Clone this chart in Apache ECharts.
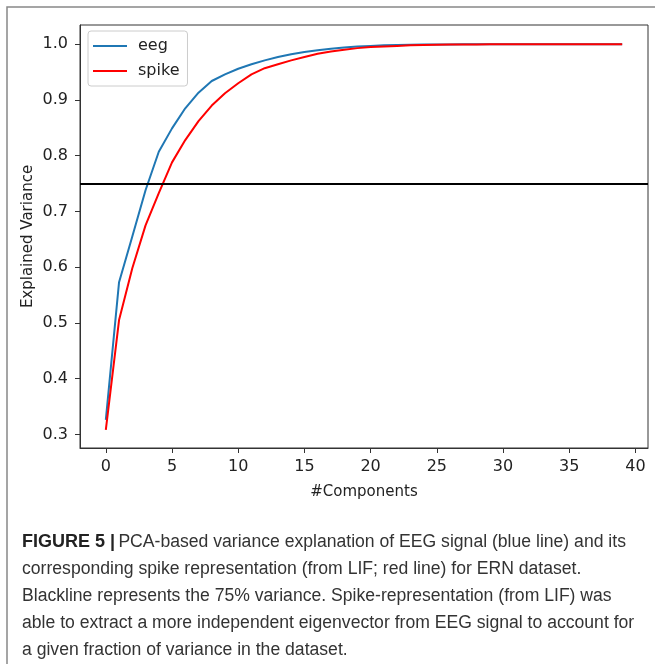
<!DOCTYPE html>
<html>
<head>
<meta charset="utf-8">
<script src="https://cdn.jsdelivr.net/npm/echarts@6/dist/echarts.min.js"></script>
<style>
  html, body { margin: 0; padding: 0; background: #fff; }
  #chart { width: 655px; height: 664px; }
</style>
</head>
<body>
<div id="chart"></div>
<script>
// explained variance per number of components
var components = [];
for (var i = 0; i < 40; i++) components.push(i);
var eeg = [0.326, 0.573, 0.655, 0.738, 0.807, 0.849, 0.885, 0.913, 0.934, 0.946,
  0.956, 0.964, 0.971, 0.977, 0.982, 0.986, 0.989, 0.992, 0.994, 0.996,
  0.997, 0.998, 0.9985, 0.999, 0.9993, 0.9995, 0.9997, 0.9998, 0.9999, 0.9999,
  1.0, 1.0, 1.0, 1.0, 1.0, 1.0, 1.0, 1.0, 1.0, 1.0];
var spike = [0.308, 0.505, 0.598, 0.675, 0.733, 0.788, 0.828, 0.862, 0.890, 0.912,
  0.930, 0.946, 0.957, 0.964, 0.971, 0.977, 0.983, 0.987, 0.990, 0.993,
  0.995, 0.996, 0.997, 0.998, 0.9985, 0.999, 0.9993, 0.9995, 0.9997, 0.9998,
  0.9999, 0.9999, 1.0, 1.0, 1.0, 1.0, 1.0, 1.0, 1.0, 1.0];
var xTicks = [0, 5, 10, 15, 20, 25, 30, 35, 40];
var yTicks = [0.3, 0.4, 0.5, 0.6, 0.7, 0.8, 0.9, 1.0];
var threshold = 0.75;

var captionLines = [
  'PCA-based variance explanation of EEG signal (blue line) and its',
  'corresponding spike representation (from LIF; red line) for ERN dataset.',
  'Blackline represents the 75% variance. Spike-representation (from LIF) was',
  'able to extract a more independent eigenvector from EEG signal to account for',
  'a given fraction of variance in the dataset.'
];

function pairs(ys) {
  return ys.map(function (v, k) { return [components[k], v]; });
}

var tickFont = { fontFamily: 'DejaVu Sans', fontSize: 16, color: '#222' };

var captionGraphics = [];
captionGraphics.push({
  type: 'text', left: 22, top: 533,
  style: {
    rich: {
      b: { fontFamily: 'Liberation Sans', fontWeight: 'bold', fontSize: 18, fill: '#222' },
      n: { fontFamily: 'Liberation Sans', fontSize: 17.6, fill: '#333' }
    },
    text: '{b|FIGURE 5 |} {n|' + captionLines[0] + '}'
  }
});
for (var j = 1; j < captionLines.length; j++) {
  captionGraphics.push({
    type: 'text', left: 22, top: 533 + j * 27,
    style: { text: captionLines[j], fontFamily: 'Liberation Sans', fontSize: 17.6, fill: '#333' }
  });
}

var myChart = echarts.init(document.getElementById('chart'));
var option = {
  animation: false,
  backgroundColor: '#fff',
  grid: { left: 80, top: 25, width: 568, height: 423, show: true, borderColor: '#333', borderWidth: 1 },
  legend: {
    orient: 'vertical', left: 88, top: 31,
    backgroundColor: '#fff', borderColor: '#ccc', borderWidth: 1, borderRadius: 3,
    padding: [7, 8, 7, 5], itemGap: 9,
    itemWidth: 34, itemHeight: 2, icon: 'rect',
    textStyle: { fontFamily: 'DejaVu Sans', fontSize: 16, color: '#222', padding: [0, 0, 0, 6] },
    data: ['eeg', 'spike']
  },
  xAxis: {
    type: 'value', min: -1.95, max: 40.95,
    name: '#Components', nameLocation: 'middle', nameGap: 37,
    nameTextStyle: { fontFamily: 'DejaVu Sans', fontSize: 15, color: '#222' },
    axisLine: { show: true, onZero: false, lineStyle: { color: '#333' } },
    axisTick: { show: true, customValues: xTicks, length: 5, lineStyle: { color: '#333' } },
    axisLabel: Object.assign({ customValues: xTicks, margin: 11 }, tickFont),
    splitLine: { show: false }
  },
  yAxis: {
    type: 'value', min: 0.2755, max: 1.0345,
    name: 'Explained Variance', nameLocation: 'middle', nameGap: 44, nameRotate: 90,
    nameMoveOverlap: false,
    nameTextStyle: { fontFamily: 'DejaVu Sans', fontSize: 15, color: '#222' },
    axisLine: { show: true, onZero: false, lineStyle: { color: '#333' } },
    axisTick: { show: true, customValues: yTicks, length: 5, lineStyle: { color: '#333' } },
    axisLabel: Object.assign({ customValues: yTicks, margin: 12,
      formatter: function (v) { return v.toFixed(1); } }, tickFont),
    splitLine: { show: false }
  },
  series: [
    {
      name: 'eeg', type: 'line', data: pairs(eeg), showSymbol: false, symbol: 'none',
      itemStyle: { color: '#1f77b4' }, lineStyle: { color: '#1f77b4', width: 2 },
      markLine: {
        silent: true, symbol: 'none', label: { show: false },
        lineStyle: { color: '#000', width: 2, type: 'solid' },
        data: [{ yAxis: threshold }]
      }
    },
    {
      name: 'spike', type: 'line', data: pairs(spike), showSymbol: false, symbol: 'none',
      itemStyle: { color: '#ff0000' }, lineStyle: { color: '#ff0000', width: 2 }
    }
  ],
  graphic: [
    { type: 'rect', shape: { x: 7, y: 7, width: 660, height: 670 },
      style: { fill: 'none', stroke: '#888', lineWidth: 1.5 }, z: -1 }
  ].concat(captionGraphics)
};
myChart.setOption(option);
</script>
</body>
</html>
